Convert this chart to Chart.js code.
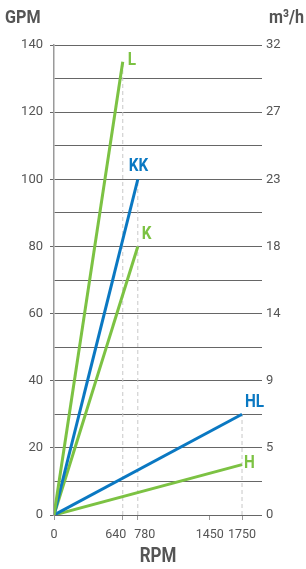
<!DOCTYPE html>
<html>
<head>
<meta charset="utf-8">
<script src="https://cdn.jsdelivr.net/npm/chart.js@4/dist/chart.umd.min.js"></script>
<style>
html,body{margin:0;padding:0;background:#fff;}
#wrap{width:306px;height:569px;position:relative;}
</style>
</head>
<body>
<div id="wrap"><canvas id="c" width="306" height="569"></canvas></div>
<script>
const seriesNames = ['L', 'KK', 'K', 'HL', 'H'];
const seriesRpm = [640, 780, 780, 1750, 1750];
const seriesGpm = [135, 100, 80, 30, 15];
const seriesColors = ['#7cc243', '#0a78c2', '#7cc243', '#0a78c2', '#7cc243'];
const xTicks = [0, 640, 780, 1450, 1750];
const xTickLabels = ['0', '640\u2007\u2007', '\u2007\u2007780', '1450', '1750'];
const gpmTicks = [0, 20, 40, 60, 80, 100, 120, 140];
const m3hLabels = ['0', '5', '9', '14', '18', '23', '27', '32'];
const guideRpm = [640, 780, 1750];
const guideGpm = [135, 100, 30];

const FONT = "'Roboto', 'Liberation Sans', sans-serif";
const TXT = '#555555';

const datasets = [];
guideRpm.forEach((r, i) => {
  datasets.push({
    data: [{x: r, y: 0}, {x: r, y: guideGpm[i]}],
    borderColor: '#c8c8c8', borderWidth: 1, borderDash: [4, 3],
    pointRadius: 0, fill: false, order: 10, yAxisID: 'y', xAxisID: 'x'
  });
});
seriesNames.forEach((n, i) => {
  datasets.push({
    label: n,
    data: [{x: 0, y: 0}, {x: seriesRpm[i], y: seriesGpm[i]}],
    borderColor: seriesColors[i], borderWidth: 3,
    pointRadius: 0, fill: false, order: 1, yAxisID: 'y', xAxisID: 'x'
  });
});

const labelOffsets = {L: [5, -1], KK: [-9, -12.5], K: [4, -12], HL: [3, -11.5], H: [2, -1.5]};

function condensedText(ctx, text, x, y, align, sx) {
  ctx.save();
  ctx.translate(x, y);
  ctx.scale(sx, 1);
  ctx.textAlign = align;
  ctx.fillText(text, 0, 0);
  ctx.restore();
}

const extras = {
  id: 'extras',
  afterDraw(chart) {
    const ctx = chart.ctx;
    const xs = chart.scales.x, ys = chart.scales.y;
    ctx.save();
    ctx.textBaseline = 'middle';
    seriesNames.forEach((n, i) => {
      const px = xs.getPixelForValue(seriesRpm[i]);
      const py = ys.getPixelForValue(seriesGpm[i]);
      const off = labelOffsets[n];
      ctx.fillStyle = seriesColors[i];
      ctx.font = "bold 18px " + FONT;
      condensedText(ctx, n, px + off[0], py + off[1], 'left', 0.85);
    });
    ctx.fillStyle = TXT;
    ctx.font = "bold 19px " + FONT;
    condensedText(ctx, 'GPM', 5, 18, 'left', 0.85);
    condensedText(ctx, 'm³/h', 304, 18, 'right', 0.85);
    ctx.font = "bold 20px " + FONT;
    condensedText(ctx, 'RPM', (chart.chartArea.left + chart.chartArea.right) / 2, 557, 'center', 0.85);
    ctx.restore();
  }
};

new Chart(document.getElementById('c'), {
  type: 'line',
  data: {datasets},
  options: {
    responsive: false,
    animation: false,
    layout: {padding: {top: 45, left: 0, right: 0, bottom: 0}},
    plugins: {legend: {display: false}, tooltip: {enabled: false}},
    scales: {
      x: {
        type: 'linear', position: 'bottom', min: 0, max: 1936,
        afterBuildTicks: s => { s.ticks = xTicks.map(v => ({value: v})); },
        ticks: {color: TXT, font: {family: FONT, size: 12.5}, padding: 7, maxRotation: 0, autoSkip: false,
          callback: v => xTickLabels[xTicks.indexOf(v)]},
        grid: {drawOnChartArea: false, drawTicks: true, tickLength: 5, tickColor: '#999'},
        border: {display: false},
        title: {display: false},
        afterFit: s => { s.height = 54; }
      },
      y: {
        type: 'linear', position: 'left', min: 0, max: 140,
        ticks: {stepSize: 10, color: TXT, font: {family: FONT, size: 13}, padding: 7,
          callback: v => (v % 20 === 0 ? String(v) : '')},
        grid: {color: '#666666', lineWidth: 1, tickLength: 4,
          tickColor: c => (c.tick && c.tick.value % 20 === 0 ? '#666666' : 'rgba(0,0,0,0)')},
        border: {display: true, color: '#9a9a9a', width: 1.5},
        afterFit: s => { s.width = 54; }
      },
      y2: {
        type: 'linear', position: 'right', min: 0, max: 140,
        afterBuildTicks: s => { s.ticks = gpmTicks.map(v => ({value: v})); },
        ticks: {color: TXT, font: {family: FONT, size: 13}, padding: 4,
          callback: v => m3hLabels[gpmTicks.indexOf(v)]},
        grid: {display: false, drawTicks: false},
        border: {display: false},
        afterFit: s => { s.width = 44; }
      }
    }
  },
  plugins: [extras]
});
</script>
</body>
</html>
